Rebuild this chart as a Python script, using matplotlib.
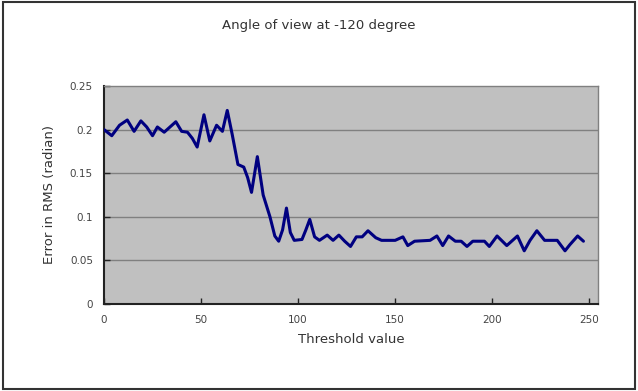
import numpy as np
import matplotlib
matplotlib.use('Agg')
import matplotlib.pyplot as plt
from matplotlib.patches import Rectangle

# threshold values and RMS error
threshold = [0, 4, 8, 12, 15.5, 19, 22, 25, 27.5, 31, 37, 40, 43, 45.5, 48,
             51.5, 54.5, 58, 61, 63.5, 66, 69, 72, 74, 76, 79, 82, 85.5, 88,
             90, 92, 94, 96, 98, 102, 104, 106, 108.5, 111, 115, 118, 121,
             124, 127, 130, 133, 136, 140, 143, 150, 154, 156.5, 160, 168,
             171.5, 174.5, 177.5, 181, 184, 187, 190, 196, 198.5, 202.5,
             207.5, 213, 216.5, 219.5, 223, 227, 233.5, 237.5, 240, 244, 247]
rms_error = [0.200, 0.193, 0.205, 0.211, 0.198, 0.210, 0.203, 0.193, 0.203,
             0.197, 0.209, 0.198, 0.197, 0.190, 0.180, 0.217, 0.187, 0.205,
             0.198, 0.222, 0.195, 0.160, 0.157, 0.145, 0.128, 0.169, 0.125,
             0.100, 0.078, 0.072, 0.085, 0.110, 0.082, 0.073, 0.074, 0.085,
             0.097, 0.077, 0.073, 0.079, 0.073, 0.079, 0.072, 0.066, 0.077,
             0.077, 0.084, 0.076, 0.073, 0.073, 0.077, 0.067, 0.072, 0.073,
             0.078, 0.067, 0.078, 0.072, 0.072, 0.066, 0.072, 0.072, 0.066,
             0.078, 0.067, 0.078, 0.061, 0.073, 0.084, 0.073, 0.073, 0.061,
             0.068, 0.078, 0.072]

x_ticks = [0, 50, 100, 150, 200, 250]
y_ticks = [0, 0.05, 0.1, 0.15, 0.2, 0.25]
y_labels = ['0', '0.05', '0.1', '0.15', '0.2', '0.25']

txt = '#333333'

fig = plt.figure(figsize=(6.38, 3.91), dpi=100)
ax = fig.add_axes([104/638, 1 - 304/391, 494/638, 218/391])
ax.set_facecolor('#c0c0c0')

for yv in y_ticks[1:-1]:
    ax.axhline(yv, color='#808080', lw=1.0, zorder=1)

ax.plot(threshold, rms_error, color='#000080', lw=2.2,
        solid_joinstyle='round', solid_capstyle='round', zorder=3)

ax.set_xlim(0, 254.5)
ax.set_ylim(0, 0.25)
ax.set_xticks(x_ticks)
ax.set_yticks(y_ticks)
ax.set_yticklabels(y_labels)
ax.tick_params(direction='in', length=4, width=1, colors='#222222',
               labelcolor='#444444', labelsize=7.5, pad=8)

for s in ['left', 'bottom']:
    ax.spines[s].set_color('#222222')
    ax.spines[s].set_linewidth(1.5)
for s in ['top', 'right']:
    ax.spines[s].set_color('#808080')
    ax.spines[s].set_linewidth(1.0)

ax.set_xlabel('Threshold value', fontsize=9.5, color=txt, labelpad=6)
ax.set_ylabel('Error in RMS (radian)', fontsize=9.5, color=txt, labelpad=10)
fig.text(0.5, 1 - 25/391, 'Angle of view at -120 degree', ha='center',
         va='center', fontsize=9.5, color=txt)

# chart area border
fig.patches.append(Rectangle((0.004, 0.006), 0.992, 0.988,
                             transform=fig.transFigure, fill=False,
                             edgecolor='#333333', lw=1.5))

fig.savefig('out.png', dpi=100)
